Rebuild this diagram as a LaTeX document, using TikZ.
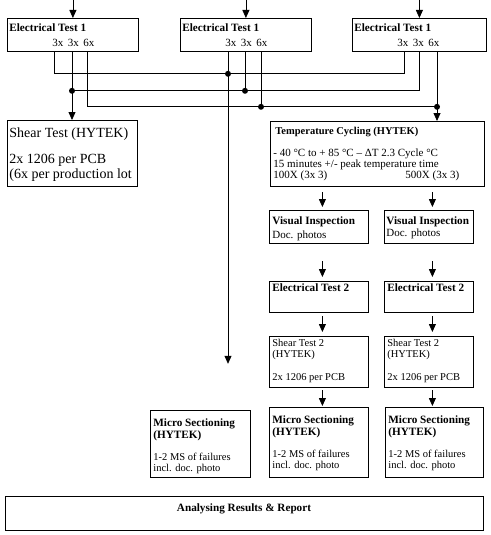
\documentclass[tikz,border=0pt]{standalone}
\usepackage{fontspec}
\setmainfont{Liberation Serif}
\usetikzlibrary{arrows.meta,calc}
\begin{document}
\begin{tikzpicture}[x=1pt,y=-1pt, line width=0.8pt,
  boxst/.style={draw, line width=0.8pt, anchor=north west, inner sep=0pt},
  arr/.style={-{Triangle[length=8pt,width=7pt]}},
  tb/.style={anchor=base west, inner sep=0pt, font=\fontsize{11.2}{13}\selectfont\bfseries},
  tr/.style={anchor=base west, inner sep=0pt, font=\fontsize{11}{13}\selectfont},
  ts/.style={anchor=base west, inner sep=0pt, font=\fontsize{10.5}{13}\selectfont},
  tbig/.style={anchor=base west, inner sep=0pt, font=\fontsize{14}{16}\selectfont},
  dotst/.style={circle, fill, inner sep=0pt, minimum size=6pt}]
\useasboundingbox (0,0) rectangle (490,535);

% ---- boxes
\node[boxst, minimum width=131pt, minimum height=33pt] (etA) at (7,18) {};
\node[boxst, minimum width=131pt, minimum height=33pt] (etB) at (180,18) {};
\node[boxst, minimum width=134pt, minimum height=33pt] (etC) at (352,18) {};
\node[boxst, minimum width=130pt, minimum height=66pt] (shear) at (7,120) {};
\node[boxst, minimum width=214pt, minimum height=65pt] (tc) at (270,121) {};
\node[boxst, minimum width=99pt, minimum height=33pt] (viM) at (269,210) {};
\node[boxst, minimum width=89pt, minimum height=33pt] (viR) at (384,210) {};
\node[boxst, minimum width=99pt, minimum height=31pt] (etM) at (269,281) {};
\node[boxst, minimum width=89pt, minimum height=31pt] (etR) at (384,281) {};
\node[boxst, minimum width=99pt, minimum height=51pt] (stM) at (269,336) {};
\node[boxst, minimum width=89pt, minimum height=51pt] (stR) at (384,336) {};
\node[boxst, minimum width=100pt, minimum height=67pt] (msL) at (150,410) {};
\node[boxst, minimum width=99pt, minimum height=70pt] (msM) at (269,407) {};
\node[boxst, minimum width=98pt, minimum height=70pt] (msR) at (385,407) {};
\node[boxst, minimum width=478pt, minimum height=34pt] (ana) at (5,496) {};

% ---- texts
\node[tb] (tA1) at (9,32) {Electrical Test 1};
\node[tr] (tA2) at (52,47) {3x\hspace{4.5pt}3x\hspace{4.5pt}6x};
\node[tb] (tB1) at (182,32) {Electrical Test 1};
\node[tr] (tB2) at (225,47) {3x\hspace{4.5pt}3x\hspace{4.5pt}6x};
\node[tb] (tC1) at (354,32) {Electrical Test 1};
\node[tr] (tC2) at (397,47) {3x\hspace{4.5pt}3x\hspace{4.5pt}6x};

\node[tbig] (s1) at (9,137) {Shear Test (HYTEK)};
\node[tbig] (s2) at (9,163) {2x 1206 per PCB};
\node[tbig] (s3) at (9,178) {(6x per production lot};

\node[tb, font=\fontsize{10.5}{12}\selectfont\bfseries] (c1) at (275,134) {Temperature Cycling (HYTEK)};
\node[tr] (c2) at (273,156) {- 40 °C to + 85 °C – ΔT 2.3 Cycle °C};
\node[tr] (c3) at (273,167) {15 minutes +/- peak temperature time};
\node[tr] (c4) at (273,178) {100X (3x 3)};
\node[tr] (c5) at (405,178) {500X (3x 3)};

\node[tb] (v1) at (272,224) {Visual Inspection};
\node[tr] (v2) at (272,238) {Doc. photos};
\node[tb] (v3) at (386,224) {Visual Inspection};
\node[tr] (v4) at (386,236) {Doc. photos};

\node[tb] (e1) at (272,291) {Electrical Test 2};
\node[tb] (e2) at (387,291) {Electrical Test 2};

\node[ts] (p1) at (272,346) {Shear Test 2};
\node[ts] (p2) at (272,357) {(HYTEK)};
\node[ts] (p3) at (272,380) {2x 1206 per PCB};
\node[ts] (p4) at (387,346) {Shear Test 2};
\node[ts] (p5) at (387,357) {(HYTEK)};
\node[ts] (p6) at (387,380) {2x 1206 per PCB};

\node[tb] (m1) at (153,426) {Micro Sectioning};
\node[tb] (m2) at (153,438) {(HYTEK)};
\node[ts] (m3) at (153,460) {1-2 MS of failures};
\node[ts] (m4) at (153,471) {incl. doc. photo};
\node[tb] (m5) at (272,423) {Micro Sectioning};
\node[tb] (m6) at (272,435) {(HYTEK)};
\node[ts] (m7) at (272,457) {1-2 MS of failures};
\node[ts] (m8) at (272,468) {incl. doc. photo};
\node[tb] (m9) at (388,423) {Micro Sectioning};
\node[tb] (m10) at (388,435) {(HYTEK)};
\node[ts] (m11) at (388,457) {1-2 MS of failures};
\node[ts] (m12) at (388,468) {incl. doc. photo};

\node[tb, anchor=base] (an) at (244,511) {Analysing Results \& Report};

% ---- connection points
\coordinate (a1) at ($(etA.south west)+(47,0)$);
\coordinate (a2) at ($(etA.south west)+(65,0)$);
\coordinate (a3) at ($(etA.south west)+(80,0)$);
\coordinate (b1) at ($(etB.south west)+(48,0)$);
\coordinate (b2) at ($(etB.south west)+(65,0)$);
\coordinate (b3) at ($(etB.south west)+(81,0)$);
\coordinate (k1) at ($(etC.south west)+(52,0)$);
\coordinate (k2) at ($(etC.south west)+(67,0)$);
\coordinate (k3) at ($(etC.south west)+(85,0)$);
\coordinate (bend) at ($(b1)+(0,312)$);
\coordinate (topA) at ($(etA.north)+(0,-18)$);
\coordinate (topB) at ($(etB.north)+(0,-18)$);
\coordinate (topC) at ($(etC.north)+(0,-18)$);

% ---- top arrows
\draw[arr] (topA) -- (etA.north);
\draw[arr] (topB) -- (etB.north);
\draw[arr] (topC) -- (etC.north);

% ---- bus lines
\draw (a1) -- ++(0,22) -| (k1);
\draw (a2) -- ++(0,39) -| (k2);
\draw (a3) -- ++(0,55) -| (k3);
\draw[arr] (a2) -- (a2 |- shear.north);
\draw[arr] (k3) -- (k3 |- tc.north);
\draw (b2) -- ++(0,39);
\draw (b3) -- ++(0,55);
\draw[arr] (b1) -- (bend);

\node[dotst] (d1) at ($(b1)+(0,22)$) {};
\node[dotst] (d2) at ($(a2)+(0,39)$) {};
\node[dotst] (d3) at ($(b2)+(0,39)$) {};
\node[dotst] (d4) at ($(b3)+(0,55)$) {};
\node[dotst] (d5) at ($(k3)+(0,55)$) {};

% ---- column arrows
\coordinate (v1s) at ($(viM.north)+(3.5,-18)$);
\coordinate (v1e) at ($(viM.north)+(3.5,-3)$);
\coordinate (v2s) at ($(viR.north)+(3.5,-18)$);
\coordinate (v2e) at ($(viR.north)+(3.5,-3)$);
\coordinate (e1s) at ($(etM.north)+(3.5,-20)$);
\coordinate (e1e) at ($(etM.north)+(3.5,-4)$);
\coordinate (e2s) at ($(etR.north)+(3.5,-20)$);
\coordinate (e2e) at ($(etR.north)+(3.5,-4)$);
\coordinate (s1s) at ($(stM.north)+(3.5,-20)$);
\coordinate (s1e) at ($(stM.north)+(3.5,-4)$);
\coordinate (s2s) at ($(stR.north)+(3.5,-20)$);
\coordinate (s2e) at ($(stR.north)+(3.5,-4)$);
\coordinate (m1s) at ($(msM.north)+(3.5,-17)$);
\coordinate (m1e) at ($(msM.north)+(3.5,-1)$);
\coordinate (m2s) at ($(msR.north)+(-2,-17)$);
\coordinate (m2e) at ($(msR.north)+(-2,-1)$);
\draw[arr] (v1s) -- (v1e);
\draw[arr] (v2s) -- (v2e);
\draw[arr] (e1s) -- (e1e);
\draw[arr] (e2s) -- (e2e);
\draw[arr] (s1s) -- (s1e);
\draw[arr] (s2s) -- (s2e);
\draw[arr] (m1s) -- (m1e);
\draw[arr] (m2s) -- (m2e);
\end{tikzpicture}
\end{document}
